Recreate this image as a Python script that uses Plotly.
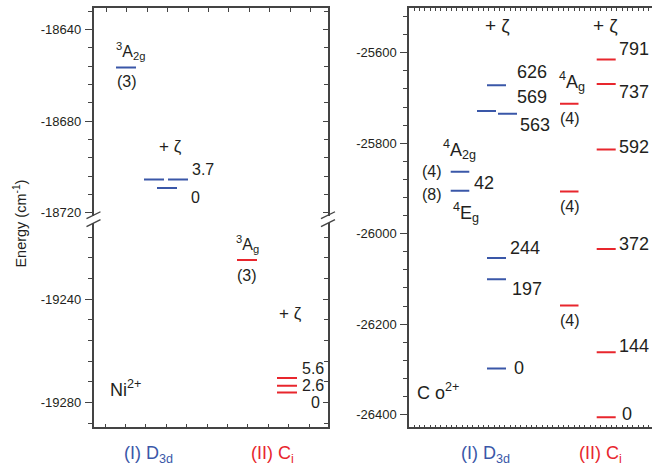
import plotly.graph_objects as go

W, H = 652, 472

# ---------------- data (cm^-1) ----------------
ni_d3d_term = -18656.5            # 3A2g (3)
ni_d3d_zeta_base = -18709.2
ni_d3d_zeta_offsets = [0, 3.7, 3.7]
ni_ci_term = -19224.9             # 3Ag (3)
ni_ci_zeta_base = -19276.2
ni_ci_zeta_offsets = [0, 2.6, 5.6]

co_d3d_terms = [-25863, -25905]   # 4A2g (4), 4Eg (8)
co_d3d_zeta_base = -26298
co_d3d_zeta_offsets = [0, 197, 244, 563, 569, 626]
co_ci_terms = [-25713, -25907, -26159]   # 4Ag (4), (4), (4)
co_ci_zeta_base = -26406
co_ci_zeta_offsets = [0, 144, 372, 592, 737, 791]

ni_yticks_upper = [-18720, -18680, -18640]
ni_yticks_lower = [-19280, -19240]
co_yticks = [-26400, -26200, -26000, -25800, -25600]
group_labels = ["(I) D<sub>3d</sub>", "(II) C<sub>i</sub>"]

# ---------------- style ----------------
BLUE = "#3a57a8"
RED = "#e8262d"
TXT = "#231f20"
AX = "#444444"
FONT = "Liberation Sans"

LX0, LX1 = 93.5, 328.0      # left panel pixel extent
RX0, RX1 = 409.0, 652.0     # right panel pixel extent
TOP, BOT = 8.0, 432.0
BRK_TOP, BRK_BOT = 218.0, 225.0

def px(x):
    return x / W

def py(y):
    return 1 - y / H

fig = go.Figure()

def level(e, x0, x1, color, xa, ya):
    fig.add_trace(go.Scatter(x=[x0, x1], y=[e, e], mode="lines",
                             line=dict(color=color, width=2),
                             xaxis=xa, yaxis=ya, hoverinfo="skip",
                             showlegend=False))

# ---- Ni panel (x in pixels relative to left border) ----
level(ni_d3d_term, 116 - LX0, 136 - LX0, BLUE, "x", "y")
ni_d3d_zeta_x = [(157, 177), (144, 164), (168, 188)]
for off, (a, b) in zip(ni_d3d_zeta_offsets, ni_d3d_zeta_x):
    level(ni_d3d_zeta_base + off, a - LX0, b - LX0, BLUE, "x", "y")
level(ni_ci_term, 237 - LX0, 257 - LX0, RED, "x2", "y2")
for off in ni_ci_zeta_offsets:
    level(ni_ci_zeta_base + off, 277 - LX0, 297 - LX0, RED, "x2", "y2")

# ---- Co panel ----
for e in co_d3d_terms:
    level(e, 450.7 - RX0, 469.3 - RX0, BLUE, "x3", "y3")
co_d3d_zeta_x = [(487, 506), (487, 506), (487, 506), (498, 517), (477, 496), (487, 506)]
for off, (a, b) in zip(co_d3d_zeta_offsets, co_d3d_zeta_x):
    level(co_d3d_zeta_base + off, a - RX0, b - RX0, BLUE, "x3", "y3")
for e in co_ci_terms:
    level(e, 560 - RX0, 578.5 - RX0, RED, "x3", "y3")
for off in co_ci_zeta_offsets:
    level(co_ci_zeta_base + off, 596.7 - RX0, 615.7 - RX0, RED, "x3", "y3")

# invisible traces for right-side tick axes of left panel
fig.add_trace(go.Scatter(x=[], y=[], xaxis="x", yaxis="y4", showlegend=False))
fig.add_trace(go.Scatter(x=[], y=[], xaxis="x2", yaxis="y5", showlegend=False))

# ---------------- axes ----------------
up_per_px = 80 / (215 - 30)
up_range = [-18720 - (BRK_TOP - 215) * up_per_px, -18640 + (30 - TOP) * up_per_px]
lo_per_px = 40 / (406.7 - 302.3)
lo_range = [-19280 - (BOT - 406.7) * lo_per_px, -19240 + (302.3 - BRK_BOT) * lo_per_px]
co_per_px = 800 / (419 - 53.3)
co_range = [-26400 - (BOT - 419) * co_per_px, -25600 + (53.3 - TOP) * co_per_px]

dom_up = [py(BRK_TOP), py(TOP)]
dom_lo = [py(BOT), py(BRK_BOT)]
dom_lx = [px(LX0), px(LX1)]
dom_rx = [px(RX0), 1.0]

tickfont = dict(family=FONT, size=13, color=TXT)

def yaxis_common(vals, rng, dom, anchor, minor_dtick, tick0):
    return dict(domain=dom, range=rng, anchor=anchor, showline=True,
                linecolor=AX, linewidth=1.5, showgrid=False, zeroline=False,
                tickmode="array", tickvals=vals, ticktext=[str(v) for v in vals],
                ticks="outside", ticklen=7, tickwidth=1.2, tickcolor=AX,
                tickfont=tickfont, ticklabelstandoff=1,
                minor=dict(dtick=minor_dtick, tick0=tick0, ticks="outside",
                           ticklen=4, tickwidth=1.2, tickcolor=AX, showgrid=False))

def ymirror(rng, dom, anchor, over, minor_dtick, tick0, vals):
    return dict(domain=dom, range=rng, anchor=anchor, overlaying=over,
                side="right", showline=False, showgrid=False, zeroline=False,
                tickmode="array", tickvals=vals, showticklabels=False,
                ticks="inside", ticklen=5, tickwidth=1.2, tickcolor=AX,
                minor=dict(dtick=minor_dtick, tick0=tick0, ticks="inside",
                           ticklen=4, tickwidth=1.2, tickcolor=AX, showgrid=False))

def xaxis_common(dom, rng, anchor, side, dtick, tick0, ticklen, mirror=False):
    return dict(domain=dom, range=rng, anchor=anchor, side=side, showline=True,
                linecolor=AX, linewidth=1.5, showgrid=False, zeroline=False,
                showticklabels=False, ticks="inside", dtick=dtick, tick0=tick0,
                ticklen=ticklen, tickwidth=1.2, tickcolor=AX, mirror=mirror)

lw = LX1 - LX0
rw = RX1 - RX0
fig.update_layout(
    xaxis=xaxis_common(dom_lx, [0, lw], "y", "top", 20.4, 13, 4),
    xaxis2=xaxis_common(dom_lx, [0, lw], "y2", "bottom", 20.4, 11.5, 4),
    xaxis3=xaxis_common(dom_rx, [0, rw], "y3", "bottom", 5.33, 0, 3, mirror="allticks"),
    yaxis=yaxis_common(ni_yticks_upper, up_range, dom_up, "x", 8, -18640),
    yaxis2=yaxis_common(ni_yticks_lower, lo_range, dom_lo, "x2", 8, -19240),
    yaxis3=yaxis_common(co_yticks, co_range, [py(BOT), py(TOP)], "x3", 40, -25600),
    yaxis4=ymirror(up_range, dom_up, "x", "y", 8, -18640, ni_yticks_upper),
    yaxis5=ymirror(lo_range, dom_lo, "x2", "y2", 8, -19240, ni_yticks_lower),
)
# right border of left panel
fig.layout.yaxis.mirror = True
fig.layout.yaxis2.mirror = True

# ---------------- annotations ----------------
anns = []

def dlabel(text, xpx, e, dy, size, xa, ya, x0, color=TXT):
    anns.append(dict(text=text, x=xpx - x0, y=e, xref=xa, yref=ya, yshift=dy,
                     showarrow=False, xanchor="center", yanchor="middle",
                     font=dict(family=FONT, size=size, color=color)))

def plabel(text, xpx, ypx, size, color=TXT, angle=0):
    anns.append(dict(text=text, x=px(xpx), y=py(ypx), xref="paper", yref="paper",
                     showarrow=False, xanchor="center", yanchor="middle",
                     textangle=angle, font=dict(family=FONT, size=size, color=color)))

# Ni labels
dlabel("<sup>3</sup>A<sub>2g</sub>", 130, ni_d3d_term, 16, 16, "x", "y", LX0)
dlabel("(3)", 127, ni_d3d_term, -14, 16, "x", "y", LX0)
plabel("+ ζ", 170, 148, 17)
dlabel(f"{ni_d3d_zeta_offsets[1]:g}", 203, ni_d3d_zeta_base + ni_d3d_zeta_offsets[1], 10, 16, "x", "y", LX0)
dlabel(f"{ni_d3d_zeta_offsets[0]:g}", 195, ni_d3d_zeta_base + ni_d3d_zeta_offsets[0], -9, 16, "x", "y", LX0)
dlabel("<sup>3</sup>A<sub>g</sub>", 247, ni_ci_term, 16, 16, "x2", "y2", LX0)
dlabel("(3)", 247, ni_ci_term, -15, 16, "x2", "y2", LX0)
plabel("+ ζ", 290, 317, 17)
plabel(f"{ni_ci_zeta_offsets[2]:g}", 313, 372, 16)
plabel(f"{ni_ci_zeta_offsets[1]:g}", 313, 390, 16)
plabel(f"{ni_ci_zeta_offsets[0]:g}", 315, 407, 16)
plabel("Ni<sup>2+</sup>", 125, 393, 18)

# Co labels
dlabel("<sup>4</sup>A<sub>2g</sub>", 459, co_d3d_terms[0], 22, 18, "x3", "y3", RX0)
dlabel("(4)", 432, co_d3d_terms[0], 0, 16, "x3", "y3", RX0)
dlabel("(8)", 432, co_d3d_terms[1], -4, 16, "x3", "y3", RX0)
dlabel(f"{co_d3d_terms[0] - co_d3d_terms[1]}", 484, co_d3d_terms[1], 8, 18, "x3", "y3", RX0)
dlabel("<sup>4</sup>E<sub>g</sub>", 466, co_d3d_terms[1], -22, 18, "x3", "y3", RX0)
plabel("+ ζ", 497, 26, 19)
d3d_lab = {0: (519, 0), 197: (527, -10), 244: (525, 10), 563: (535, -11), 569: (532, 14), 626: (532, 13)}
for off in co_d3d_zeta_offsets:
    xx, dy = d3d_lab[off]
    dlabel(str(off), xx, co_d3d_zeta_base + off, dy, 18, "x3", "y3", RX0)
dlabel("<sup>4</sup>A<sub>g</sub>", 572, co_ci_terms[0], 22, 18, "x3", "y3", RX0)
for e in co_ci_terms:
    dlabel("(4)", 570, e, -15, 16, "x3", "y3", RX0)
plabel("+ ζ", 605, 26, 19)
ci_lab = {0: (627, 3), 144: (634, 6), 372: (634, 5), 592: (634, 3), 737: (634, -8), 791: (634, 11)}
for off in co_ci_zeta_offsets:
    xx, dy = ci_lab[off]
    dlabel(str(off), xx, co_ci_zeta_base + off, dy, 18, "x3", "y3", RX0)
plabel("C o<sup>2+</sup>", 438, 396, 18)

# group labels
plabel(group_labels[0], 148, 459, 18, BLUE)
plabel(group_labels[1], 272, 459, 18, RED)
plabel(group_labels[0], 485, 459, 18, BLUE)
plabel(group_labels[1], 600, 459, 18, RED)

# y title
plabel("Energy (cm<sup>-1</sup>)", 20, 226, 14.5, angle=-90)

# ---------------- axis-break marks ----------------
shapes = []
for xc in (LX0, LX1):
    for yc in (217.5, 225.5):
        shapes.append(dict(type="line", xref="paper", yref="paper",
                           x0=px(xc - 7), y0=py(yc + 3.5), x1=px(xc + 7), y1=py(yc - 3.5),
                           line=dict(color=AX, width=1.3)))

fig.update_layout(
    width=W, height=H, autosize=False,
    margin=dict(l=0, r=0, t=0, b=0),
    paper_bgcolor="white", plot_bgcolor="white",
    showlegend=False, annotations=anns, shapes=shapes,
    font=dict(family=FONT, color=TXT),
)

fig.write_html("out.html", config={"displayModeBar": False},
               post_script="document.body.style.margin='0';document.body.style.overflow='hidden';")
